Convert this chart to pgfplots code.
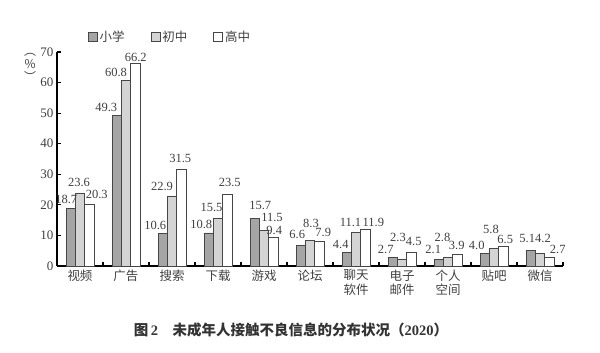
\documentclass[border=0pt]{standalone}
\usepackage{pgfplots}
\usepackage{pgfplotstable}
\pgfplotsset{compat=1.18}
\usepackage{fontspec}
\setmainfont{Liberation Serif}
\newfontfamily\cjk{Noto Sans CJK SC}
\definecolor{darkbar}{RGB}{165,165,165}
\definecolor{lightbar}{RGB}{212,212,212}
\definecolor{edge}{RGB}{70,70,70}
% x = category, y = value, dx/dy = label offsets (pt)
\pgfplotstableread{
x y dx dy
0 18.7 -4.5 5
1 49.3 -10.5 3
2 10.6 -7.5 3.6
3 10.8 -7.5 4
4 15.7 5.5 8
5 6.6 -3.5 7
6 4.4 -6 3.5
7 2.7 -7 3.7
8 2.1 -5.5 5.6
9 4.0 -8 4
10 5.1 -3.5 7
}\primary
\pgfplotstableread{
x y dx dy
0 23.6 -1 7
1 60.8 -10 3
2 22.9 -10 5
3 15.5 -6.5 7
4 11.5 8 8.7
5 8.3 1 12.6
6 11.1 -5.5 5
7 2.3 -4 17
8 2.8 -5.5 15
9 5.8 -3 14
10 4.2 3 10
}\junior
\pgfplotstableread{
x y dx dy
0 20.3 7.5 5
1 66.2 0.5 2
2 31.5 -1 7
3 23.5 2.5 7
4 9.4 1 2.5
5 7.9 4 5
6 11.9 8 3
7 4.5 2.5 6.5
8 3.9 -0.5 4
9 6.5 2 2
10 2.7 8.5 3.7
}\senior
\begin{document}
\begin{tikzpicture}[x=1pt,y=1pt]
\path[use as bounding box] (0,0) rectangle (600,353);
\begin{axis}[
  at={(57pt,87pt)}, anchor=south west,
  scale only axis, width=506pt, height=214pt,
  xmin=-0.5, xmax=10.5, ymin=0, ymax=70,
  axis x line*=bottom, axis y line*=left,
  axis line style={-, line width=1.6pt, black},
  ybar=0pt, bar width=9.3pt,
  xtick={0,...,10},
  xticklabels={视频,广告,搜索,下载,游戏,论坛,聊天\\软件,电子\\邮件,个人\\空间,贴吧,微信},
  xticklabel style={font=\cjk\fontsize{12.5}{14.5}\selectfont, align=center, text=black!75},
  major x tick style={draw=none},
  minor xtick={0.5,1.5,...,10.5},
  minor tick length=4pt,
  minor x tick style={line width=1.4pt, black},
  ytick={0,10,...,70},
  tick align=inside,
  major tick length=4pt,
  y tick style={line width=1.2pt, black},
  yticklabel style={font=\fontsize{13}{14}\selectfont, text=black!75},
  /pgf/number format/assume math mode=true,
  legend columns=3,
  legend style={at={(axis description cs:0.055,1.07)}, anchor=west, draw=none, fill=none,
    font=\cjk\fontsize{12.5}{13.5}\selectfont, text=black!75,
    /tikz/every even column/.append style={column sep=24pt}},
  legend image code/.code={\draw[#1, line width=0.7pt] (0pt,-4.5pt) rectangle (9pt,4.5pt);},
  clip=false,
  lbl/.style={
    nodes near coords,
    visualization depends on={\thisrow{dx} \as \dx},
    visualization depends on={\thisrow{dy} \as \dy},
    every node near coord/.append style={font=\fontsize{12.5}{13}\selectfont, text=black!75,
      /pgf/number format/fixed, /pgf/number format/fixed zerofill, /pgf/number format/precision=1,
      inner sep=0pt, anchor=south, xshift=\dx pt, yshift=\dy pt}},
]
\addplot[fill=darkbar, draw=edge, line width=0.7pt, lbl] table[x=x, y=y] {\primary};
\addplot[fill=lightbar, draw=edge, line width=0.7pt, lbl] table[x=x, y=y] {\junior};
\addplot[fill=white, draw=edge, line width=0.7pt, lbl] table[x=x, y=y] {\senior};
\legend{小学,初中,高中}
\node[font=\cjk\fontsize{12}{13}\selectfont, text=black!75, align=center, inner sep=0pt] at (axis description cs:-0.053,0.93) {︵\\\%\\︶};
\end{axis}
\node[font=\cjk\bfseries\fontsize{14.5}{15.5}\selectfont, text=black!80] at (291,23) {图\,{\rmfamily\bfseries 2}\quad 未成年人接触不良信息的分布状况（{\rmfamily\bfseries 2020}）};
\end{tikzpicture}
\end{document}
